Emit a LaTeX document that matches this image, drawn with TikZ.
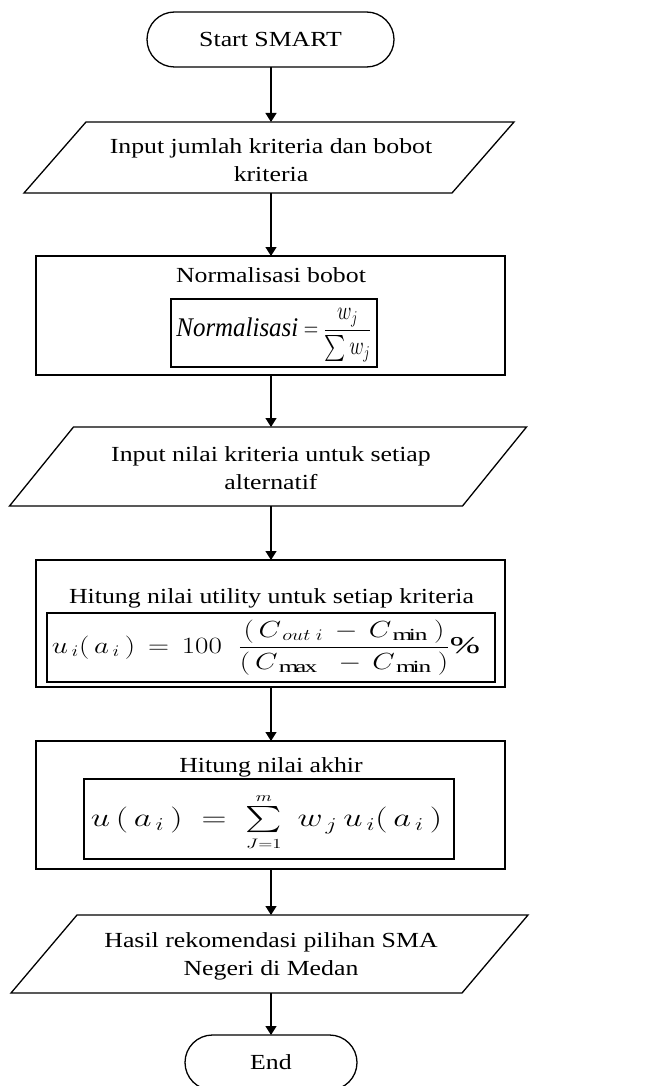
\documentclass[tikz,border=0pt]{standalone}
\usepackage{amsmath}
\usepackage{graphicx}
\usepackage{fontspec}
\setmainfont{Liberation Serif}[FakeStretch=1.2]
\usetikzlibrary{arrows.meta}
\tikzset{
  every node/.style={font=\fontsize{21.5}{28}\selectfont, inner sep=0pt, outer sep=0pt},
  term/.style={draw, line width=1.3pt, rounded corners=27.5pt, minimum height=55pt},
  iobox/.style={draw=none, align=center},
  proc/.style={draw, line width=1.3pt, minimum width=469pt},
  fbox/.style={draw, line width=1.3pt},
  iolines/.style={line width=1.3pt, line join=miter},
  flow/.style={line width=1.3pt, -{Triangle[length=9pt,width=11pt]}}
}
\begin{document}
\begin{tikzpicture}[x=1pt,y=-1pt]
\useasboundingbox (0,0) rectangle (670,1086);

% start
\node[term, minimum width=247pt] (start) at (270.5,39.5) {Start SMART};

% input 1
\node[iobox, minimum width=428pt, minimum height=71pt] (in1) at (269,157.5) {};
\node[align=center] (in1t) at (271,160) {Input jumlah kriteria dan bobot\\kriteria};
\draw[iolines] ([xshift=31pt]in1.north west) -- ([xshift=31pt]in1.north east) -- ([xshift=-31pt]in1.south east) -- ([xshift=-31pt]in1.south west) -- cycle;

% normalisasi
\node[proc, minimum height=119pt] (norm) at (270.5,315.5) {};
\node[anchor=base] (normt) at (271,282) {Normalisasi bobot};
\node[fbox, minimum width=206pt, minimum height=68pt] (normf) at (274,333) {};
\node (normfx) at (274,335)
  {\resizebox*{195pt}{54pt}{$\textit{Normalisasi}=\dfrac{w_{j}}{\sum w_{j}}$}};

% input 2
\node[iobox, minimum width=453pt, minimum height=79pt] (in2) at (268,466.5) {};
\node[align=center] (in2t) at (271,468) {Input nilai kriteria untuk setiap\\alternatif};
\draw[iolines] ([xshift=32pt]in2.north west) -- ([xshift=32pt]in2.north east) -- ([xshift=-32pt]in2.south east) -- ([xshift=-32pt]in2.south west) -- cycle;

% utility
\node[proc, minimum height=127pt] (util) at (270.5,623.5) {};
\node[anchor=base] (utilt) at (271.5,603) {Hitung nilai utility untuk setiap kriteria};
\node[fbox, minimum width=448pt, minimum height=69pt] (utilf) at (271,647.5) {};
\node (utilfx) at (263.5,647.5)
  {\resizebox*{423pt}{55pt}{$u_{\,i}(\,a_{\,i}\,)\,=\,100\;\;\dfrac{(\,C_{\,out\;i}\,-\,C_{\,\min}\;)}{(\,C_{\,\max}\;\;-\,C_{\,\min}\;)}\mathrm{\%}$}};

% akhir
\node[proc, minimum height=128pt] (akhir) at (270.5,805) {};
\node[anchor=base] (akhirt) at (271,772) {Hitung nilai akhir};
\node[fbox, minimum width=370pt, minimum height=80pt] (akhirf) at (269,819) {};
\node (akhirfx) at (266.5,822)
  {\resizebox*{351pt}{58pt}{$u\,(\,a_{\,i}\,)\;=\;\sum\limits_{\scriptscriptstyle J=1}^{\scriptscriptstyle m}\;w_{\,j}\,u_{\,i}(\,a_{\,i}\,)$}};

% output
\node[iobox, minimum width=451pt, minimum height=78pt] (out) at (269.5,954) {};
\node[align=center] (outt) at (271,956) {Hasil rekomendasi pilihan SMA\\Negeri di Medan};
\draw[iolines] ([xshift=33pt]out.north west) -- ([xshift=33pt]out.north east) -- ([xshift=-33pt]out.south east) -- ([xshift=-33pt]out.south west) -- cycle;

% end
\node[term, minimum width=172pt] (end) at (271,1062.5) {End};

% connectors
\draw[flow] (start.south -| 271,0) -- (in1.north -| 271,0);
\draw[flow] (in1.south -| 271,0) -- (norm.north -| 271,0);
\draw[flow] (norm.south -| 271,0) -- (in2.north -| 271,0);
\draw[flow] (in2.south -| 271,0) -- (util.north -| 271,0);
\draw[flow] (util.south -| 271,0) -- (akhir.north -| 271,0);
\draw[flow] (akhir.south -| 271,0) -- (out.north -| 271,0);
\draw[flow] (out.south -| 271,0) -- (end.north -| 271,0);
\end{tikzpicture}
\end{document}
